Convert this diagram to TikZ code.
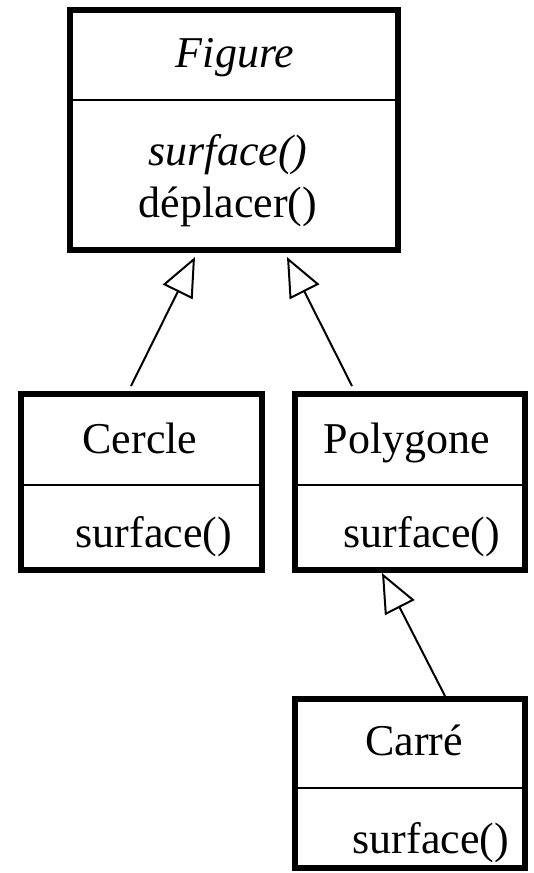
\documentclass[tikz,border=0pt]{standalone}
\usepackage{fontspec}
\setmainfont{Liberation Serif}
\usetikzlibrary{arrows.meta,calc}
\tikzset{
  classbox/.style={draw=black, line width=6pt, fill=none, outer sep=0pt, inner sep=0pt},
  divider/.style={draw=black, line width=2pt},
  lbl/.style={anchor=base, inner sep=0pt, font=\fontsize{44}{50}\selectfont},
  inherit/.style={draw=black, line width=2pt, -{Triangle[open, length=39pt, width=33pt, fill=white]}}
}
\begin{document}
\begin{tikzpicture}[x=1pt, y=-1pt]
\useasboundingbox (0,0) rectangle (533,873);
% boxes
\node[classbox, minimum width=328pt, minimum height=240pt] (fig) at (234,130) {};
\node[classbox, minimum width=241pt, minimum height=176pt] (cer) at (141.5,482) {};
\node[classbox, minimum width=230pt, minimum height=176pt] (pol) at (410,482) {};
\node[classbox, minimum width=230pt, minimum height=169pt] (car) at (410,783.5) {};
% dividers
\draw[divider] (fig.west |- 0,100) -- (fig.east |- 0,100);
\draw[divider] (cer.west |- 0,485) -- (cer.east |- 0,485);
\draw[divider] (pol.west |- 0,485) -- (pol.east |- 0,485);
\draw[divider] (car.west |- 0,788) -- (car.east |- 0,788);
% texts
\node[lbl] (figname) at (235,67) {\itshape Figure};
\node[lbl] (figm1) at (228,165) {\itshape surface()};
\node[lbl] (figm2) at (228,217) {déplacer()};
\node[lbl] (cername) at (140,453) {Cercle};
\node[lbl] (cerm) at (154,547) {surface()};
\node[lbl] (polname) at (407,453) {Polygone};
\node[lbl] (polm) at (422,547) {surface()};
\node[lbl] (carname) at (414,755) {Carré};
\node[lbl] (carm) at (431,853) {surface()};
% inheritance arrows
\draw[inherit] ($(cer.north west)+(110,-8)$) -- ($(fig.south west)+(125,7)$);
\draw[inherit] ($(pol.north west)+(57,-8)$) -- ($(fig.south west)+(217,7)$);
\draw[inherit] ($(car.north west)+(150,-3)$) -- ($(pol.south west)+(87,3)$);
\end{tikzpicture}
\end{document}
